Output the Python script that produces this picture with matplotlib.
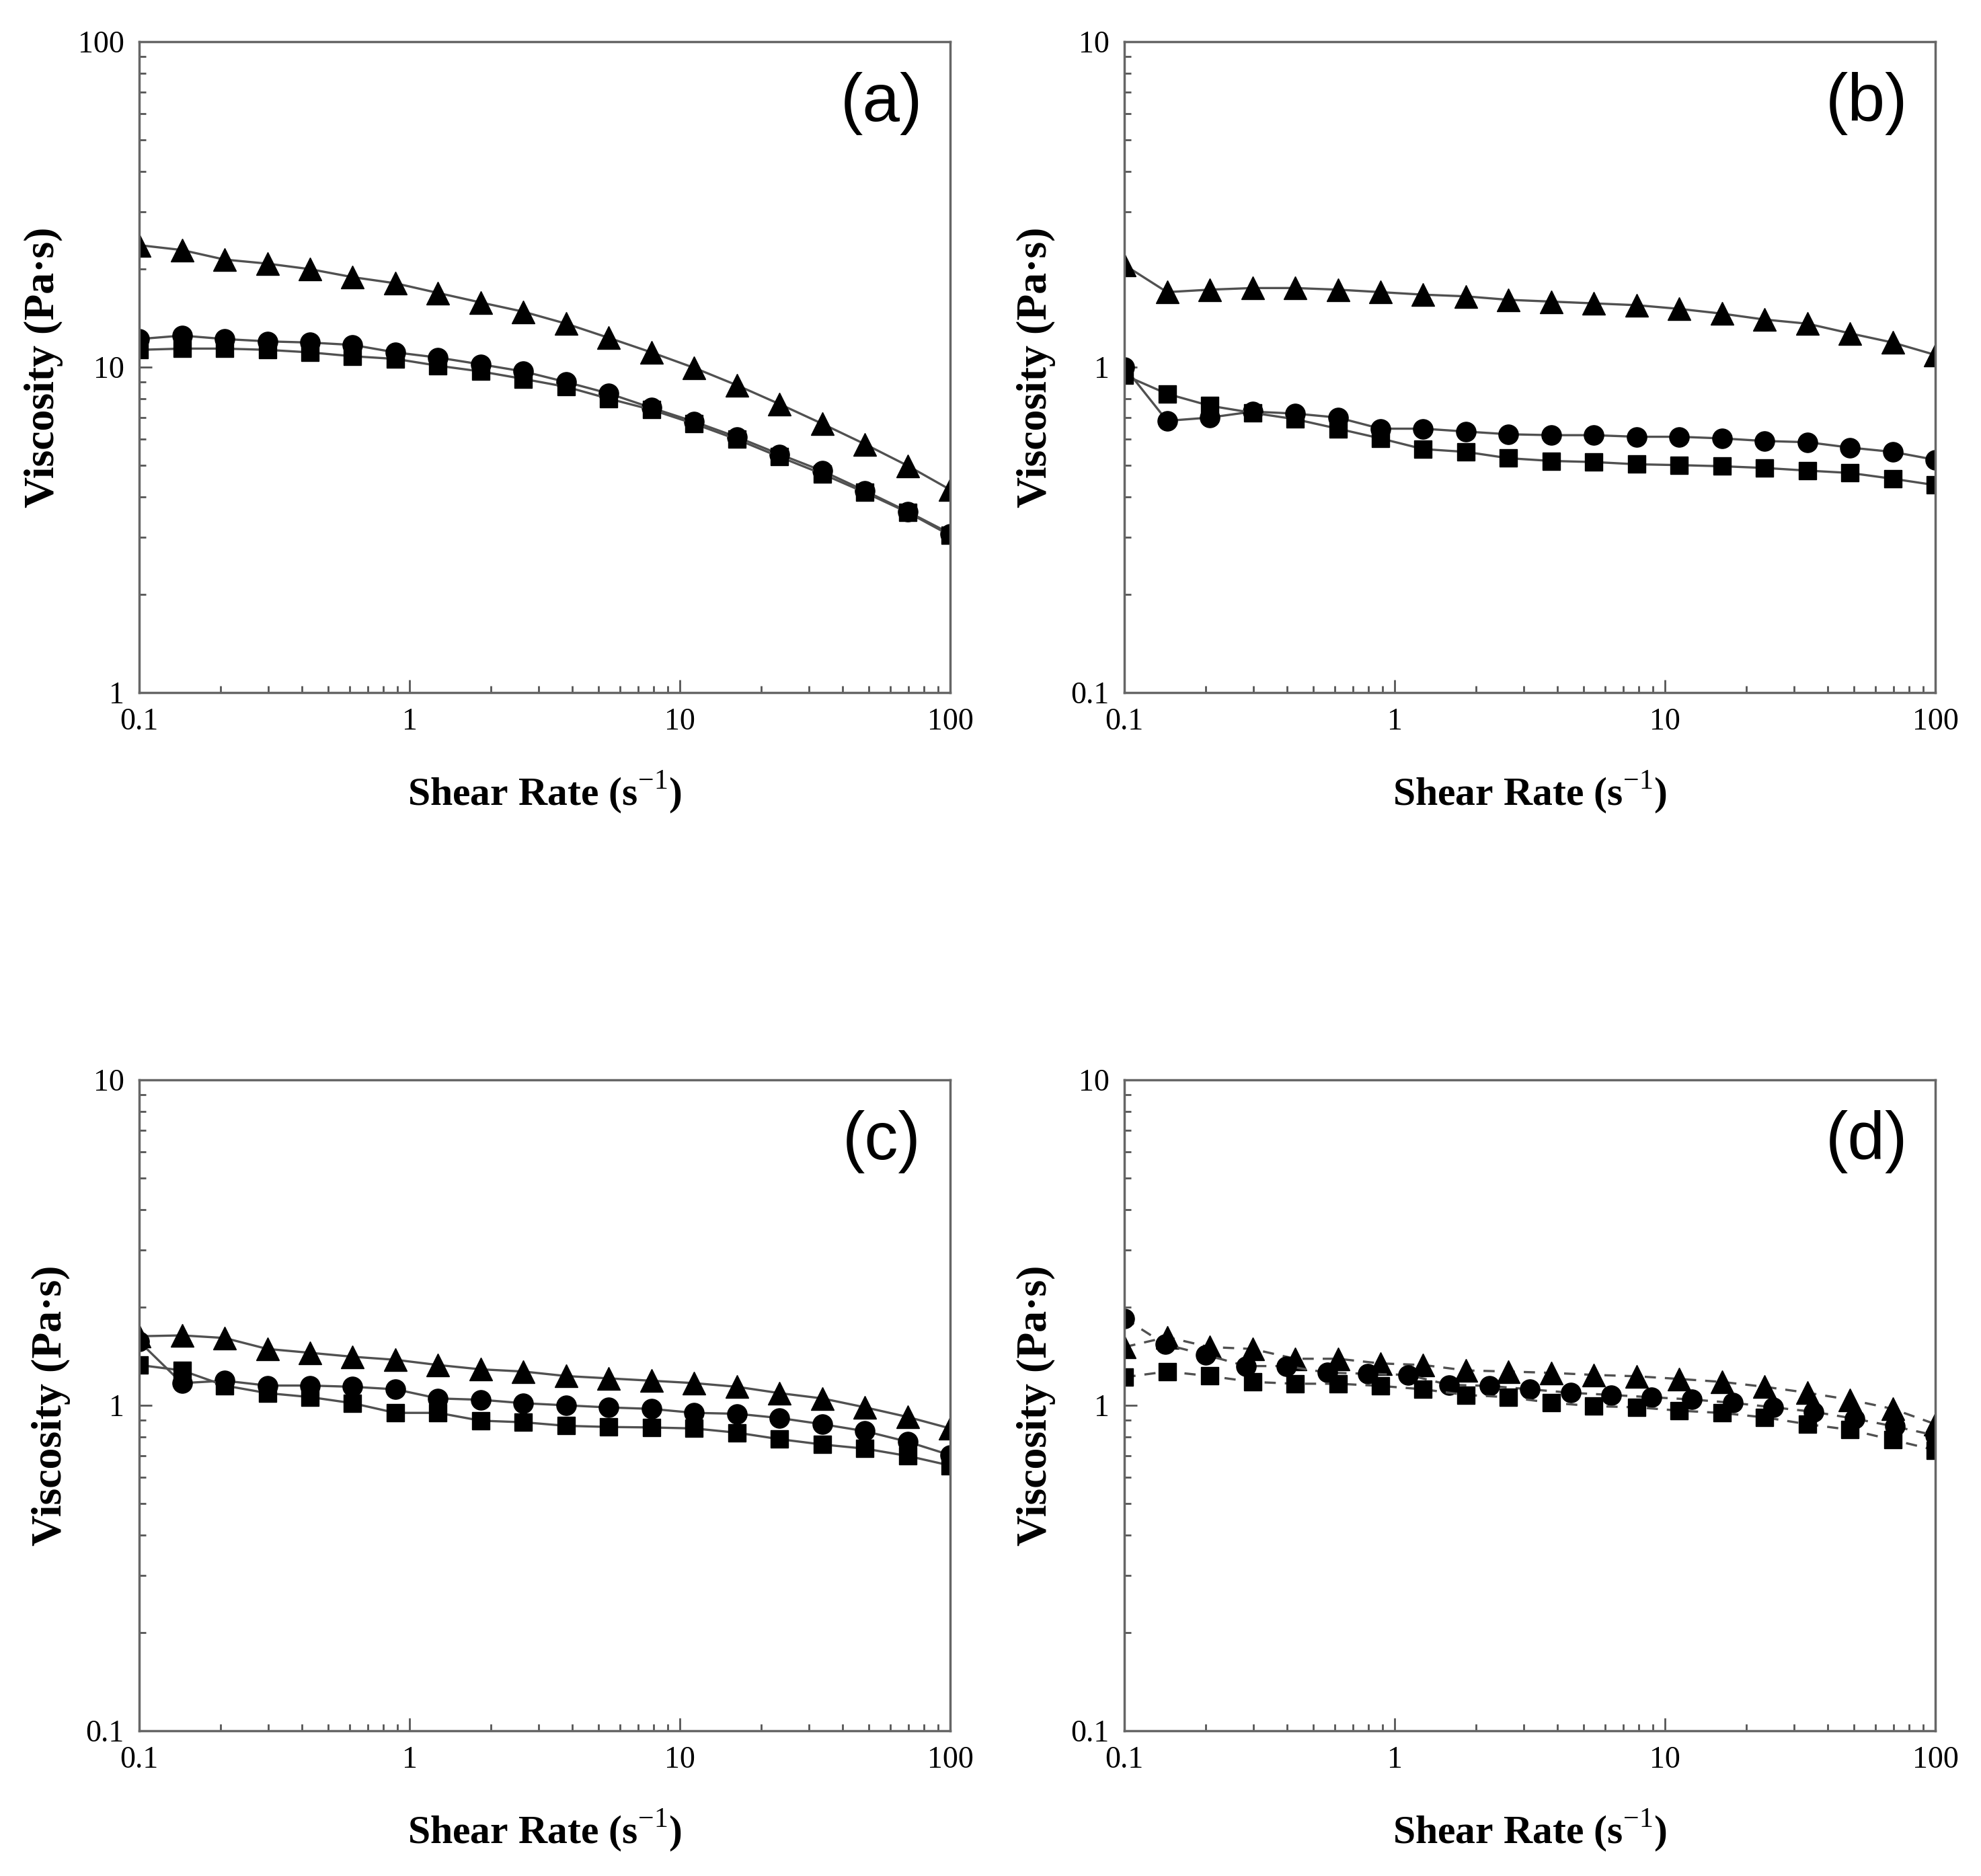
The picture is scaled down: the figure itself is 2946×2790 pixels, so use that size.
import matplotlib
matplotlib.use('Agg')
import matplotlib.pyplot as plt
from matplotlib.ticker import LogLocator, NullFormatter, FixedFormatter, FixedLocator

plt.rcParams['mathtext.fontset'] = 'custom'
plt.rcParams['mathtext.rm'] = 'Liberation Serif'
plt.rcParams['mathtext.bf'] = 'Liberation Serif:bold'

# shear rate grid (s^-1), 20 points over 0.1-100
shear = [0.1, 0.1438, 0.2069, 0.2976, 0.4281, 0.6158, 0.8859, 1.274, 1.833, 2.637,
         3.793, 5.456, 7.848, 11.29, 16.24, 23.36, 33.6, 48.33, 69.52, 100]
# panel (d) circles use 21 points
shear_d_circ = [0.1, 0.1413, 0.1995, 0.2818, 0.3981, 0.5623, 0.7943, 1.122, 1.585, 2.239, 3.162,
                4.467, 6.31, 8.913, 12.59, 17.78, 25.12, 35.48, 50.12, 70.79, 100]

# (a)
a_tri = [23.7, 22.9, 21.4, 20.8, 20.0, 18.9, 18.1, 16.9, 15.8, 14.8,
         13.6, 12.3, 11.1, 9.95, 8.8, 7.7, 6.7, 5.8, 4.98, 4.2]
a_circ = [12.2, 12.5, 12.2, 12.0, 11.9, 11.7, 11.1, 10.7, 10.2, 9.7,
          9.0, 8.3, 7.5, 6.8, 6.1, 5.4, 4.8, 4.17, 3.6, 3.08]
a_sq = [11.3, 11.4, 11.4, 11.3, 11.1, 10.8, 10.6, 10.1, 9.7, 9.2,
        8.7, 8.0, 7.4, 6.7, 6.0, 5.3, 4.7, 4.12, 3.58, 3.04]
# (b)
b_tri = [2.06, 1.70, 1.73, 1.75, 1.75, 1.73, 1.70, 1.67, 1.65, 1.61,
         1.59, 1.57, 1.55, 1.51, 1.46, 1.40, 1.36, 1.27, 1.19, 1.09]
b_circ = [1.0, 0.684, 0.70, 0.73, 0.72, 0.70, 0.647, 0.647, 0.634, 0.622,
          0.618, 0.618, 0.611, 0.611, 0.604, 0.593, 0.588, 0.566, 0.549, 0.519]
b_sq = [0.945, 0.828, 0.761, 0.724, 0.692, 0.647, 0.604, 0.560, 0.549, 0.525,
        0.515, 0.511, 0.503, 0.500, 0.496, 0.490, 0.481, 0.473, 0.454, 0.434]
# (c)
c_tri = [1.63, 1.64, 1.61, 1.49, 1.45, 1.41, 1.38, 1.33, 1.29, 1.27,
         1.23, 1.21, 1.19, 1.17, 1.14, 1.09, 1.05, 0.986, 0.921, 0.849]
c_circ = [1.57, 1.17, 1.19, 1.15, 1.15, 1.14, 1.12, 1.05, 1.04, 1.015,
          1.0, 0.985, 0.975, 0.948, 0.942, 0.914, 0.875, 0.833, 0.773, 0.703]
c_sq = [1.33, 1.28, 1.15, 1.09, 1.06, 1.015, 0.948, 0.948, 0.897, 0.887,
        0.865, 0.858, 0.855, 0.849, 0.824, 0.787, 0.758, 0.736, 0.699, 0.653]
# (d)
d_tri = [1.51, 1.62, 1.51, 1.49, 1.39, 1.39, 1.345, 1.33, 1.28, 1.27,
         1.258, 1.24, 1.228, 1.205, 1.18, 1.14, 1.093, 1.04, 0.975, 0.875]
d_circ = [1.85, 1.54, 1.43, 1.32, 1.32, 1.26, 1.25, 1.24, 1.156, 1.147, 1.12,
          1.093, 1.076, 1.059, 1.042, 1.018, 0.986, 0.955, 0.91, 0.861, 0.808]
d_sq = [1.22, 1.27, 1.23, 1.18, 1.165, 1.165, 1.147, 1.12, 1.076, 1.059,
        1.018, 0.994, 0.986, 0.963, 0.947, 0.918, 0.875, 0.841, 0.783, 0.728]

panels = [
    ('(a)', (1, 100), ['1', '10', '100'], [a_tri, a_circ, a_sq], [shear, shear, shear], '-'),
    ('(b)', (0.1, 10), ['0.1', '1', '10'], [b_tri, b_circ, b_sq], [shear, shear, shear], '-'),
    ('(c)', (0.1, 10), ['0.1', '1', '10'], [c_tri, c_circ, c_sq], [shear, shear, shear], '-'),
    ('(d)', (0.1, 10), ['0.1', '1', '10'], [d_tri, d_circ, d_sq], [shear, shear_d_circ, shear], '--'),
]
markers = ['^', 'o', 's']
msizes = [24, 21, 19]

serif = ['Liberation Serif', 'DejaVu Serif']
fig = plt.figure(figsize=(29.46, 27.90), dpi=100)

lefts = [0.0703, 0.5676, 0.0703, 0.5676]
bottoms = [0.6308, 0.6308, 0.0774, 0.0774]
W, H = 0.4094, 0.347

for i, (lab, ylim, ylabs, series, xs, ls) in enumerate(panels):
    ax = fig.add_axes([lefts[i], bottoms[i], W, H])
    for y, x, m, ms in zip(series, xs, markers, msizes):
        ax.plot(x, y, ls=ls, color='#505050', lw=2.4, marker=m, markersize=ms,
                markerfacecolor='black', markeredgecolor='black',
                dashes=(5, 4) if ls == '--' else (None, None))
    ax.set_xscale('log')
    ax.set_yscale('log')
    ax.set_xlim(0.1, 100)
    ax.set_ylim(*ylim)
    ax.xaxis.set_major_locator(FixedLocator([0.1, 1, 10, 100]))
    ax.xaxis.set_major_formatter(FixedFormatter(['0.1', '1', '10', '100']))
    ax.yaxis.set_major_locator(FixedLocator([ylim[0], ylim[0] * 10, ylim[1]]))
    ax.yaxis.set_major_formatter(FixedFormatter(ylabs))
    ax.xaxis.set_minor_locator(LogLocator(base=10, subs=range(2, 10)))
    ax.yaxis.set_minor_locator(LogLocator(base=10, subs=range(2, 10)))
    ax.xaxis.set_minor_formatter(NullFormatter())
    ax.yaxis.set_minor_formatter(NullFormatter())
    ax.tick_params(which='major', direction='in', length=14, width=2, color='#555555',
                   top=False, right=False, pad=16)
    ax.tick_params(which='minor', direction='in', length=7, width=2, color='#555555',
                   top=False, right=False)
    for lbl in ax.get_xticklabels() + ax.get_yticklabels():
        lbl.set_family(serif)
        lbl.set_fontsize(33)
    for sp in ax.spines.values():
        sp.set_color('#666666')
        sp.set_linewidth(2.5)
    ax.set_xlabel(r'Shear Rate (s$^{\mathrm{-1}}$)', family=serif, fontsize=43,
                  fontweight='bold', labelpad=36)
    ax.set_ylabel('Viscosity (Pa·s)', family=serif, fontsize=46, fontweight='bold', labelpad=16)
    ax.text(0.915, 0.905, lab, transform=ax.transAxes, ha='center', va='center',
            fontsize=72, family=['Liberation Sans', 'DejaVu Sans'])

fig.savefig('out.png', dpi=100)
